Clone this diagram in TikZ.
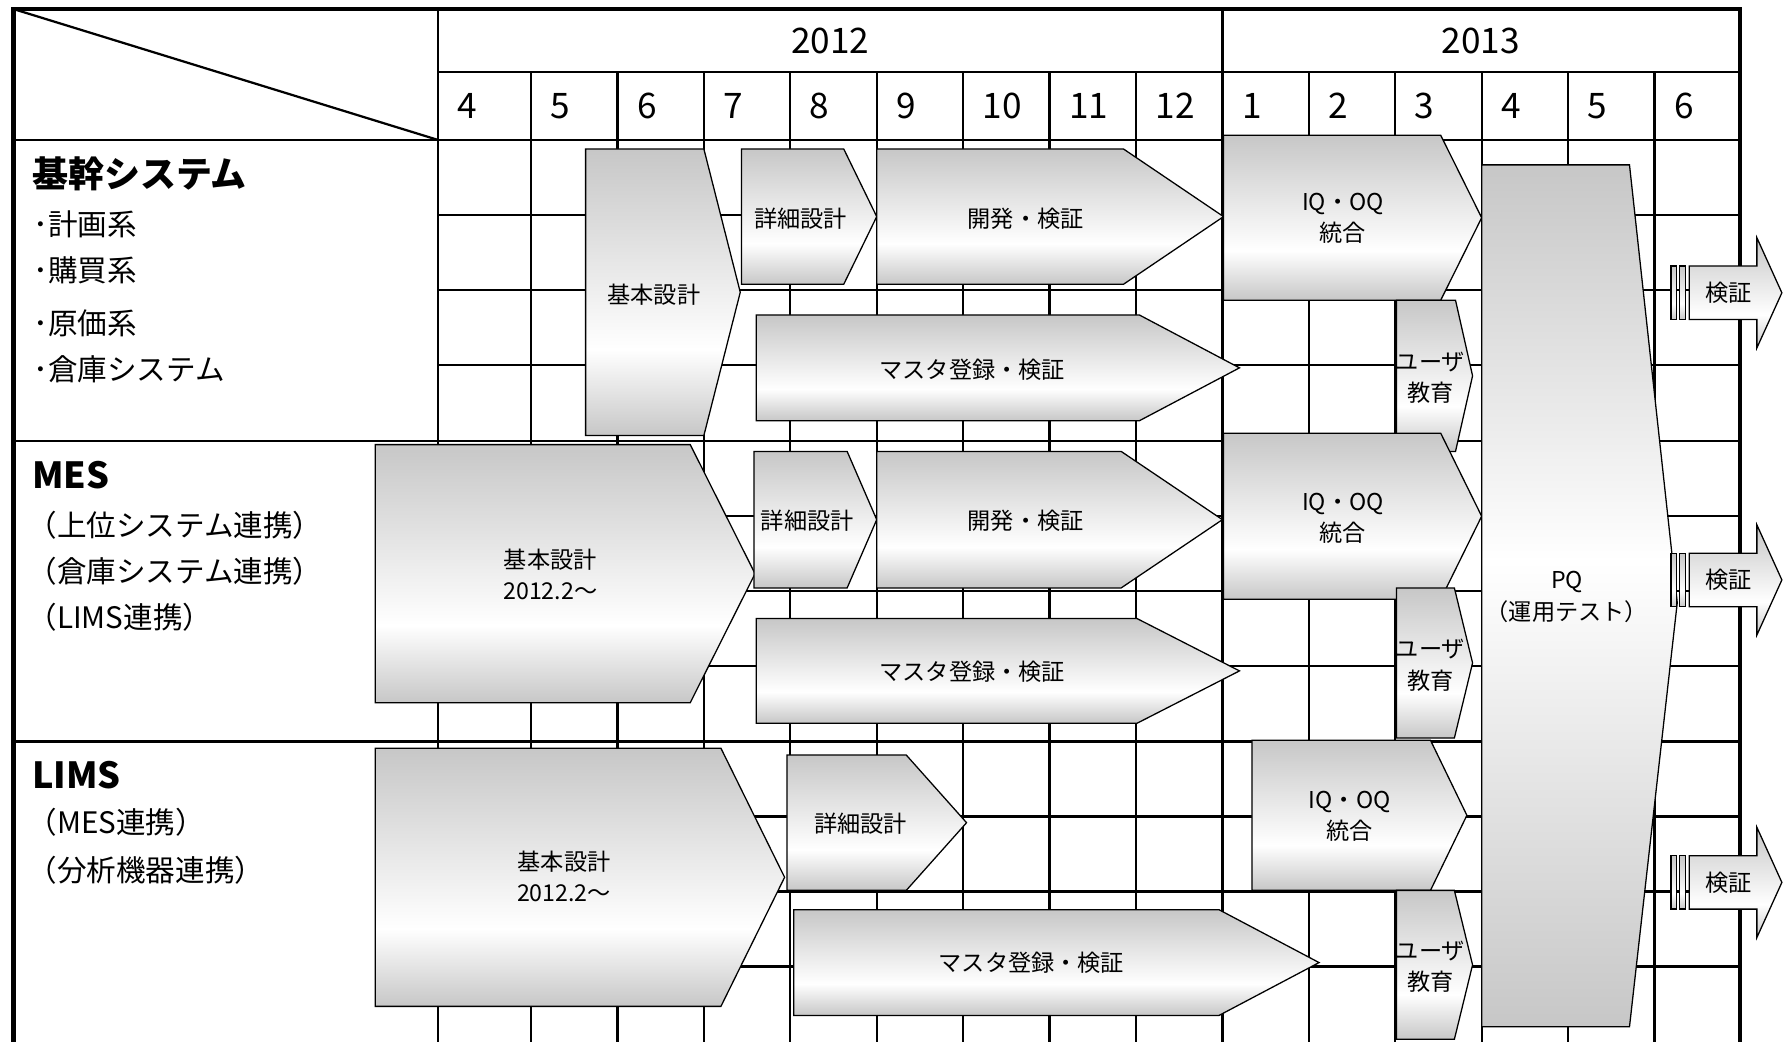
\documentclass[tikz,border=0pt]{standalone}
\usepackage{fontspec}
\setmainfont{Noto Sans CJK JP}

% gray - white - gray band used by every phase shape
\pgfdeclareverticalshading{barshade}{100bp}{color(0bp)=(black!22); color(25bp)=(black!22); color(40bp)=(white); color(75bp)=(black!22); color(100bp)=(black!22)}
\pgfdeclareverticalshading{pqshade}{100bp}{color(0bp)=(black!22); color(25bp)=(black!22); color(52bp)=(white); color(75bp)=(black!22); color(100bp)=(black!22)}

\begin{document}
\begin{tikzpicture}[x=0.025cm, y=-0.025cm, line join=miter,
	gridline/.style={line width=1.4pt},
	border/.style={line width=2.8pt},
	phase/.style={draw, line width=0.8pt, shading=barshade},
	phaselbl/.style={font=\fontsize{14.5}{19.5}\selectfont, align=center, inner sep=0pt},
	monthnum/.style={font=\fontsize{22}{26}\selectfont, anchor=west, inner sep=0pt},
	systitle/.style={font=\fontsize{22.5}{26}\selectfont\bfseries, anchor=west, inner sep=0pt},
	subitem/.style={font=\fontsize{18.5}{21}\selectfont, anchor=west, inner sep=0pt}]
	\useasboundingbox (0,0) rectangle (1568,916);

	% table
	\draw[gridline] (385,63) -- (1530,63);
	\draw[gridline] (12,123) -- (1530,123);
	\draw[gridline] (12,8) -- (385,123);
	\foreach \y in {388,652} \draw[gridline] (12,\y) -- (1530,\y);
	\foreach \y in {189,255,321,454,520,586,718,784,850} \draw[gridline] (385,\y) -- (1530,\y);
	\foreach \x in {385,1075} \draw[gridline] (\x,8) -- (\x,916);
	\foreach \x in {467,543,619,695,771,847,923,999,1151,1227,1303,1379,1455} \draw[gridline] (\x,63) -- (\x,916);
	\draw[border] (12,916) -- (12,8) -- (1530,8) -- (1530,916);

	\node[monthnum, anchor=center] (y2012) at (730,36) {2012};
	\node[monthnum, anchor=center] (y2013) at (1302,36) {2013};
	\foreach \m/\x in {4/385,5/467,6/543,7/619,8/695,9/771,10/847,11/923,12/999,1/1075,2/1151,3/1227,4/1303,5/1379,6/1455}
		\node[monthnum] (m\x) at (\x+17,93) {\m};

	% row headers
	\node[systitle] (kikan) at (28,153) {基幹システム};
	\node[subitem] (keikaku) at (29,197) {･計画系};
	\node[subitem] (kobai) at (29,238) {･購買系};
	\node[subitem] (genka) at (29,284) {･原価系};
	\node[subitem] (soko) at (29,325) {･倉庫システム};
	\node[systitle] (mes) at (28,418) {MES};
	\node[subitem] (mes1) at (24,462) {（上位システム連携）};
	\node[subitem] (mes2) at (24,502) {（倉庫システム連携）};
	\node[subitem] (mes3) at (24,543) {（LIMS連携）};
	\node[systitle] (lims) at (28,682) {LIMS};
	\node[subitem] (lims1) at (24,723) {（MES連携）};
	\node[subitem] (lims2) at (24,765) {（分析機器連携）};

	% kikan
	\path[phase] (515,131) -- (619,131) -- (651,257) -- (619,383) -- (515,383) -- cycle;
	\node[phaselbl] (k-kihon) at (575,259) {基本設計};
	\path[phase] (652,131) -- (742,131) -- (771,190.5) -- (742,250) -- (652,250) -- cycle;
	\node[phaselbl] (k-shosai) at (704,192) {詳細設計};
	\path[phase] (771,131) -- (988,131) -- (1076,190.5) -- (988,250) -- (771,250) -- cycle;
	\node[phaselbl] (k-kaihatsu) at (902,192) {開発・検証};
	\path[phase] (665,277) -- (1002,277) -- (1090,323.5) -- (1002,370) -- (665,370) -- cycle;
	\node[phaselbl] (k-master) at (855,325) {マスタ登録・検証};
	\path[phase] (1076,119) -- (1267,119) -- (1303,191.5) -- (1267,264) -- (1076,264) -- cycle;
	\node[phaselbl] (k-iqoq) at (1181,192) {IQ・OQ\\統合};
	\path[phase] (1228,264) -- (1280,264) -- (1295,330.5) -- (1280,397) -- (1228,397) -- cycle;
	\node[phaselbl] (k-user) at (1258,332) {ユーザ\\教育};

	% mes
	\path[phase] (330,391) -- (607,391) -- (664,504.5) -- (607,618) -- (330,618) -- cycle;
	\node[phaselbl] (m-kihon) at (484,505) {基本設計\\2012.2～};
	\path[phase] (663,397) -- (745,397) -- (771,457) -- (745,517) -- (663,517) -- cycle;
	\node[phaselbl] (m-shosai) at (710,458) {詳細設計};
	\path[phase] (771,397) -- (986,397) -- (1075,457) -- (986,517) -- (771,517) -- cycle;
	\node[phaselbl] (m-kaihatsu) at (902,458) {開発・検証};
	\path[phase] (665,544) -- (1000,544) -- (1090,590) -- (1000,636) -- (665,636) -- cycle;
	\node[phaselbl] (m-master) at (855,591) {マスタ登録・検証};
	\path[phase] (1076,381) -- (1267,381) -- (1303,454) -- (1267,527) -- (1076,527) -- cycle;
	\node[phaselbl] (m-iqoq) at (1181,456) {IQ・OQ\\統合};
	\path[phase] (1228,517) -- (1279,517) -- (1295,583) -- (1279,649) -- (1228,649) -- cycle;
	\node[phaselbl] (m-user) at (1258,585) {ユーザ\\教育};

	% lims
	\path[phase] (330,658) -- (634,658) -- (690,771.5) -- (634,885) -- (330,885) -- cycle;
	\node[phaselbl] (l-kihon) at (496,771) {基本設計\\2012.2～};
	\path[phase] (692,664) -- (797,664) -- (850,723.5) -- (797,783) -- (692,783) -- cycle;
	\node[phaselbl] (l-shosai) at (757,724) {詳細設計};
	\path[phase] (698,800) -- (1072,800) -- (1160,846.5) -- (1072,893) -- (698,893) -- cycle;
	\node[phaselbl] (l-master) at (907,847) {マスタ登録・検証};
	\path[phase] (1101,651) -- (1258,651) -- (1290,717) -- (1258,783) -- (1101,783) -- cycle;
	\node[phaselbl] (l-iqoq) at (1187,718) {IQ・OQ\\統合};
	\path[phase] (1228,783) -- (1279,783) -- (1295,848.5) -- (1279,914) -- (1228,914) -- cycle;
	\node[phaselbl] (l-user) at (1258,850) {ユーザ\\教育};

	% PQ
	\path[phase, shading=pqshade] (1303,145) -- (1433,145) -- (1475,530) -- (1433,903) -- (1303,903) -- cycle;
	\node[phaselbl] (pq) at (1378,525) {PQ\\（運用テスト）};

	% verification arrows
	\foreach \c [count=\i] in {257.5,510,776} {
		\path[phase] (1469.5,\c-23.5) rectangle (1474.5,\c+23.5);
		\path[phase] (1477,\c-23.5) rectangle (1482.5,\c+23.5);
		\path[phase] (1485.5,\c-23.5) -- (1545,\c-23.5) -- (1545,\c-48.5) -- (1567,\c) -- (1545,\c+48.5) -- (1545,\c+23.5) -- (1485.5,\c+23.5) -- cycle;
		\node[phaselbl] (verify\i) at (1520,\c) {検証};
	}
\end{tikzpicture}
\end{document}
